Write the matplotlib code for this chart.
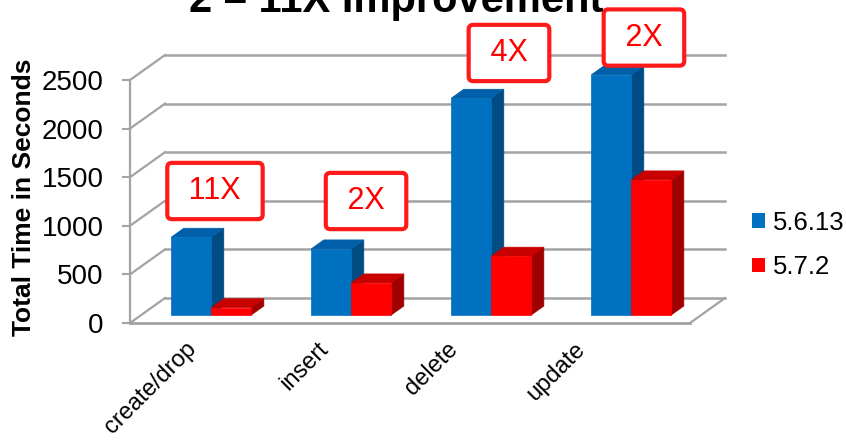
import matplotlib
matplotlib.use("Agg")
import matplotlib.pyplot as plt
from matplotlib.patches import Polygon, Patch

plt.rcParams['font.family'] = ['Liberation Sans', 'DejaVu Sans']

# data (total time in seconds)
categories = ["create/drop", "insert", "delete", "update"]
series_names = ["5.6.13", "5.7.2"]
v5613 = [800, 680, 2230, 2470]
v572 = [75, 330, 605, 1390]
yticks = [0, 500, 1000, 1500, 2000, 2500]

# speed-up call-outs
callouts = ["11X", "2X", "4X", "2X"]
callout_x = [0.607, 1.686, 2.707, 3.671]
callout_y = [1358, 1255, 2778, 2937]

# label anchor positions (rotated category labels)
label_x = [0.396, 1.339, 2.26, 3.174]

front_cols = ["#0070C0", "#FF0000"]
top_cols = ["#005FA8", "#C80000"]
side_cols = ["#004B84", "#A00000"]

# 3d look: depth offset of the back wall, in data units
DX = 0.25
DY = 257.0
f0, f1 = 0.32, 0.68      # bar front / back depth fraction
gap = 0.214              # empty space at each side of a category slot
bw = (1 - 2 * gap) / 2   # bar width

fig = plt.figure(figsize=(8.46, 4.46), dpi=100)
ax = fig.add_axes([130 / 846, 123 / 446, 560 / 846, 243 / 446])
ax.set_xlim(0, 4)
ax.set_ylim(0, 2500)
ax.patch.set_visible(False)

grid_c = "#A3A3A3"
# back wall + left wall gridlines
for v in yticks:
    ax.plot([0, DX], [v, v + DY], color=grid_c, lw=1.6, clip_on=False, zorder=1)
    ax.plot([DX, 4 + DX], [v + DY, v + DY], color=grid_c, lw=1.8, clip_on=False, zorder=1)
# floor
ax.plot([0, 4], [0, 0], color=grid_c, lw=2, clip_on=False, zorder=1)
ax.plot([4, 4 + DX], [0, DY], color=grid_c, lw=1.6, clip_on=False, zorder=1)


def bar3d(x0, w, h, k):
    # corners on the front plane and the back plane of the bar
    ax0 = x0 + f0 * DX
    ay0 = f0 * DY
    ddx = (f1 - f0) * DX
    ddy = (f1 - f0) * DY
    side = [(ax0 + w, ay0), (ax0 + w + ddx, ay0 + ddy),
            (ax0 + w + ddx, ay0 + ddy + h), (ax0 + w, ay0 + h)]
    top = [(ax0, ay0 + h), (ax0 + w, ay0 + h),
           (ax0 + w + ddx, ay0 + h + ddy), (ax0 + ddx, ay0 + h + ddy)]
    front = [(ax0, ay0), (ax0 + w, ay0), (ax0 + w, ay0 + h), (ax0, ay0 + h)]
    for pts, c in ((side, side_cols[k]), (top, top_cols[k]), (front, front_cols[k])):
        ax.add_patch(Polygon(pts, closed=True, facecolor=c, edgecolor=c,
                             lw=0.5, clip_on=False, zorder=2))


for i in range(len(categories)):
    bar3d(i + gap, bw, v5613[i], 0)
    bar3d(i + gap + bw, bw, v572[i], 1)

# y axis
ax.set_yticks(yticks)
ax.set_xticks([])
ax.tick_params(axis='y', labelsize=20, length=6, width=1.5, color=grid_c, pad=13)
for s in ["top", "right", "bottom"]:
    ax.spines[s].set_visible(False)
ax.spines["left"].set_color(grid_c)
ax.spines["left"].set_linewidth(1.6)

# category labels
for i, lab in enumerate(categories):
    ax.text(label_x[i], -154, lab, rotation=45, rotation_mode='anchor',
            ha='right', va='top', fontsize=17, clip_on=False)

# call-out boxes
for i, t in enumerate(callouts):
    ax.text(callout_x[i], callout_y[i], " " + t + " ", ha='center', va='center',
            fontsize=22, color="#FF0000", zorder=4, clip_on=False,
            bbox=dict(boxstyle="round,pad=0.43,rounding_size=0.15",
                      facecolor="white", edgecolor="#FF1A1A", linewidth=3))

handles = [Patch(facecolor=front_cols[0]), Patch(facecolor=front_cols[1])]
ax.legend(handles, series_names, loc='center left',
          bbox_to_anchor=(752 / 846, 1 - 245 / 446), bbox_transform=fig.transFigure,
          frameon=False, fontsize=18.5, handlelength=0.5, handleheight=0.5,
          handletextpad=0.3, labelspacing=0.8, borderpad=0, borderaxespad=0)

fig.text(24 / 846, 1 - 197 / 446, "Total Time in Seconds", rotation=90,
         ha='center', va='center', fontsize=19, fontweight='bold')
fig.text(396 / 846, 1 - 12 / 446, "2 \u2013 11X Improvement", ha='center',
         va='baseline', fontsize=30, fontweight='bold')

fig.savefig("out.png", dpi=100)
